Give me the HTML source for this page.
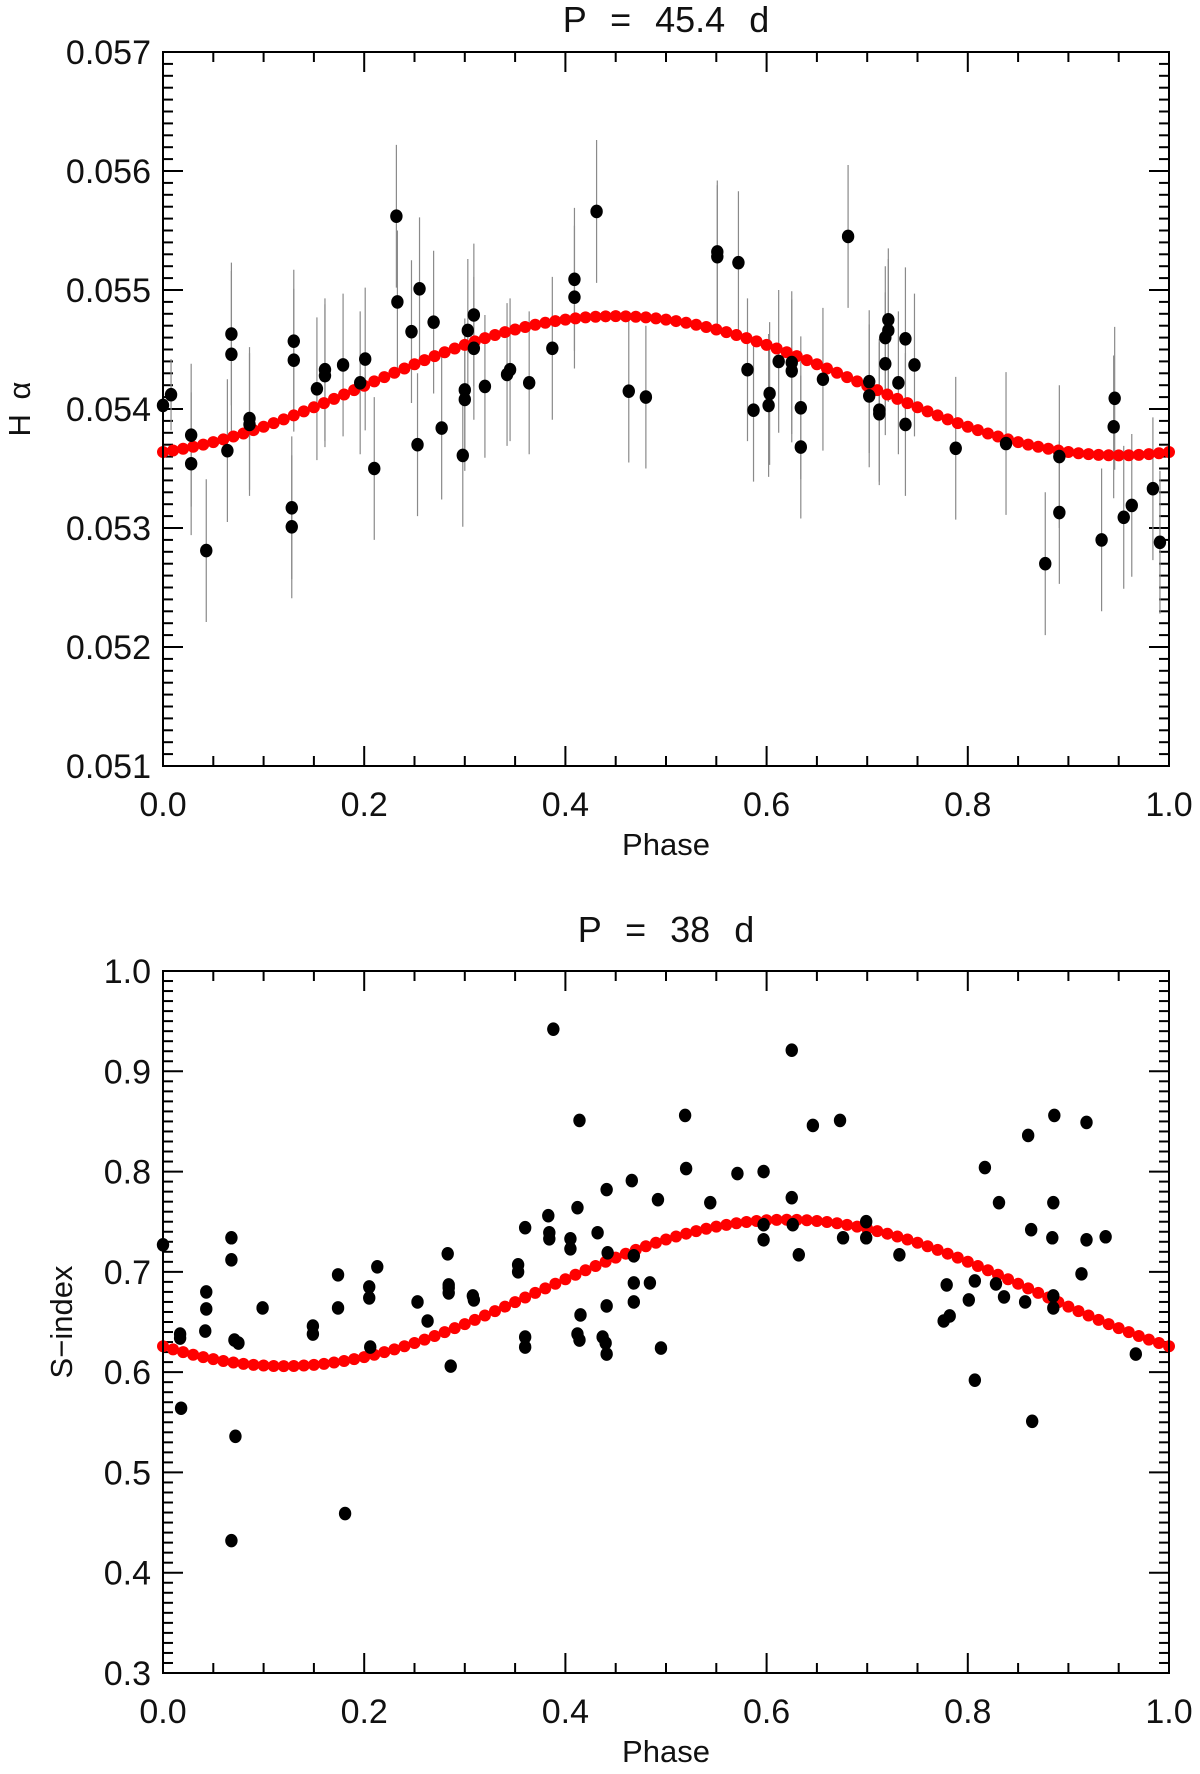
<!DOCTYPE html>
<html><head><meta charset="utf-8"><style>
html,body{margin:0;padding:0;background:#fff;}
svg{display:block;font-family:"Liberation Sans",sans-serif;}
</style></head><body>
<svg id="fig" width="1200" height="1774" viewBox="0 0 1200 1774" xmlns="http://www.w3.org/2000/svg"></svg>
<script>
// ---- Panel 1 data (H alpha) ----
const haPhase = [0.000,0.008,0.028,0.028,0.043,0.064,0.068,0.068,0.086,0.086,0.128,0.128,0.130,0.130,0.153,0.161,0.161,0.179,0.196,0.201,0.210,0.232,0.233,0.247,0.253,0.255,0.269,0.277,0.298,0.300,0.300,0.303,0.309,0.309,0.320,0.342,0.345,0.364,0.387,0.409,0.409,0.431,0.463,0.480,0.551,0.551,0.572,0.581,0.587,0.603,0.602,0.612,0.625,0.625,0.634,0.634,0.656,0.681,0.702,0.702,0.712,0.712,0.718,0.718,0.721,0.721,0.731,0.738,0.738,0.747,0.788,0.838,0.877,0.891,0.891,0.933,0.945,0.946,0.955,0.963,0.984,0.991];
const haValue = [0.05403,0.05412,0.05378,0.05354,0.05281,0.05365,0.05446,0.05463,0.05392,0.05387,0.05317,0.05301,0.05457,0.05441,0.05417,0.05428,0.05433,0.05437,0.05422,0.05442,0.05350,0.05562,0.05490,0.05465,0.05370,0.05501,0.05473,0.05384,0.05361,0.05408,0.05416,0.05466,0.05451,0.05479,0.05419,0.05429,0.05433,0.05422,0.05451,0.05494,0.05509,0.05566,0.05415,0.05410,0.05532,0.05528,0.05523,0.05433,0.05399,0.05413,0.05403,0.05440,0.05439,0.05432,0.05401,0.05368,0.05425,0.05545,0.05423,0.05411,0.05399,0.05396,0.05460,0.05438,0.05466,0.05475,0.05422,0.05459,0.05387,0.05437,0.05367,0.05371,0.05270,0.05313,0.05360,0.05290,0.05385,0.05409,0.05309,0.05319,0.05333,0.05288];
const haError = [0.0004,0.0003,0.0006,0.0006,0.0006,0.0006,0.0007,0.0006,0.0006,0.0006,0.0006,0.0006,0.0006,0.0006,0.0006,0.0006,0.0006,0.0006,0.0006,0.0006,0.0006,0.0006,0.0006,0.0006,0.0006,0.0006,0.0006,0.0006,0.0006,0.0006,0.0006,0.0006,0.0006,0.0006,0.0006,0.0006,0.0006,0.0006,0.0006,0.0006,0.0006,0.0006,0.0006,0.0006,0.0006,0.0006,0.0006,0.0006,0.0006,0.0006,0.0006,0.0006,0.0006,0.0006,0.0006,0.0006,0.0006,0.0006,0.0006,0.0006,0.0006,0.0006,0.0006,0.0006,0.0006,0.0006,0.0006,0.0006,0.0006,0.0006,0.0006,0.0006,0.0006,0.0006,0.0006,0.0006,0.0006,0.0006,0.0006,0.0006,0.0006,0.0006];
const haFit = [0.054195, 0.000585, 0.45]; // mean, amplitude, peak phase
const haYTicks = ["0.051","0.052","0.053","0.054","0.055","0.056","0.057"];
const haYTickVals = [0.051,0.052,0.053,0.054,0.055,0.056,0.057];

// ---- Panel 2 data (S-index) ----
const sPhase = [0.000,0.017,0.017,0.018,0.042,0.043,0.043,0.068,0.068,0.071,0.075,0.072,0.068,0.099,0.149,0.149,0.174,0.174,0.181,0.205,0.205,0.206,0.213,0.253,0.263,0.283,0.284,0.284,0.284,0.286,0.308,0.309,0.353,0.353,0.360,0.360,0.360,0.383,0.384,0.384,0.388,0.405,0.405,0.412,0.414,0.415,0.412,0.414,0.432,0.441,0.442,0.441,0.437,0.440,0.441,0.466,0.468,0.468,0.468,0.484,0.492,0.495,0.519,0.520,0.544,0.571,0.597,0.597,0.597,0.625,0.625,0.626,0.632,0.646,0.673,0.676,0.699,0.699,0.732,0.776,0.782,0.779,0.801,0.807,0.807,0.817,0.828,0.831,0.836,0.857,0.860,0.863,0.864,0.886,0.885,0.884,0.885,0.885,0.913,0.918,0.918,0.937,0.967];
const sValue = [0.727,0.638,0.634,0.564,0.641,0.663,0.680,0.734,0.712,0.632,0.629,0.536,0.432,0.664,0.646,0.638,0.697,0.664,0.459,0.685,0.674,0.625,0.705,0.670,0.651,0.718,0.687,0.684,0.679,0.606,0.676,0.672,0.707,0.700,0.744,0.635,0.625,0.756,0.739,0.733,0.942,0.733,0.723,0.764,0.851,0.657,0.638,0.632,0.739,0.782,0.719,0.666,0.635,0.629,0.618,0.791,0.716,0.689,0.670,0.689,0.772,0.624,0.856,0.803,0.769,0.798,0.800,0.747,0.732,0.921,0.774,0.747,0.717,0.846,0.851,0.734,0.750,0.734,0.717,0.651,0.656,0.687,0.672,0.691,0.592,0.804,0.688,0.769,0.675,0.670,0.836,0.742,0.551,0.856,0.769,0.734,0.676,0.664,0.698,0.732,0.849,0.735,0.618];
const sFit = [0.679, 0.073, 0.62]; // mean, amplitude, peak phase
const sYTicks = ["0.3","0.4","0.5","0.6","0.7","0.8","0.9","1.0"];
const sYTickVals = [0.3,0.4,0.5,0.6,0.7,0.8,0.9,1.0];
const xTicks = ["0.0","0.2","0.4","0.6","0.8","1.0"];
const xTickVals = [0,0.2,0.4,0.6,0.8,1.0];

const NS = "http://www.w3.org/2000/svg";
const svg = document.getElementById('fig');
function mk(tag, attrs, parent){
  const e = document.createElementNS(NS, tag);
  for (const k in attrs) e.setAttribute(k, attrs[k]);
  (parent||svg).appendChild(e);
  return e;
}

function panel(cfg){
  const {L,R,T,B,ymin,ymax,yMinorStep,title,titleY,ylabel,ylabelX,phase,vals,errs,fit,yTicks,yTickVals,name} = cfg;
  const g = mk('g',{});
  
  
  const xs = p => L + p*(R-L);
  const ys = v => B - (v-ymin)/(ymax-ymin)*(B-T);
  const tg = mk('g',{stroke:'#000','stroke-width':2},g);
  
  
  for (let i=0;i<=20;i++){
    const x = xs(i/20), len = (i%4===0)?20:10;
    mk('line',{x1:x,x2:x,y1:B,y2:B-len},tg);
    mk('line',{x1:x,x2:x,y1:T,y2:T+len},tg);
  }
  const nMinor = Math.round((ymax-ymin)/yMinorStep);
  for (let i=0;i<=nMinor;i++){
    const y = ys(ymin+i*yMinorStep), len = (i%10===0)?20:10;
    mk('line',{x1:L,x2:L+len,y1:y,y2:y},tg);
    mk('line',{x1:R,x2:R-len,y1:y,y2:y},tg);
  }
  xTickVals.forEach((v,i)=>{
    const t = mk('text',{x:xs(v),y:B+50,'font-size':34,'text-anchor':'middle',fill:'#111'},g);
    t.textContent = xTicks[i];
    
    
  });
  yTickVals.forEach((v,i)=>{
    const t = mk('text',{x:L-12,y:ys(v)+12,'font-size':34,'text-anchor':'end',fill:'#111'},g);
    t.textContent = yTicks[i];
    
    
  });
  const xt = mk('text',{x:(L+R)/2,y:B+89,'font-size':31,'text-anchor':'middle',fill:'#111'},g);
  xt.textContent = 'Phase';
  
  
  const yt = mk('text',{x:ylabelX,y:(T+B)/2,'font-size':31,'text-anchor':'middle',fill:'#111','word-spacing':'6px',transform:`rotate(-90 ${ylabelX} ${(T+B)/2})`},g);
  yt.textContent = ylabel;
  
  
  const tt = mk('text',{x:(L+R)/2,y:titleY,'font-size':36,'text-anchor':'middle',fill:'#111','word-spacing':'14px'},g);
  tt.textContent = title;
  
  
  if (errs){
    phase.forEach((p,i)=>{
      const l = mk('line',{x1:xs(p),x2:xs(p),y1:ys(vals[i]-errs[i]),y2:ys(vals[i]+errs[i]),stroke:'#8a8a8a','stroke-width':1.2},g);
      
      
    });
  }
  for (let i=0;i<=100;i++){
    const p = i/100;
    const v = fit[0] + fit[1]*Math.cos(2*Math.PI*(p-fit[2]));
    const c = mk('circle',{cx:xs(p),cy:ys(v),r:6,fill:'#ff0000'},g);
    
    
  }
  phase.forEach((p,i)=>{
    const c = mk('ellipse',{cx:xs(p),cy:ys(vals[i]),rx:6.2,ry:6.8,fill:'#000'},g);
    
    
  });
  const f = mk('rect',{x:L,y:T,width:R-L,height:B-T,fill:'none',stroke:'#000','stroke-width':2},g);
  
  
}

panel({L:163,R:1169,T:52,B:766,ymin:0.051,ymax:0.057,yMinorStep:0.0001,title:'P = 45.4 d',titleY:32,ylabel:'H α',ylabelX:30,phase:haPhase,vals:haValue,errs:haError,fit:haFit,yTicks:haYTicks,yTickVals:haYTickVals,name:'halpha'});
panel({L:163,R:1169,T:971,B:1673,ymin:0.3,ymax:1.0,yMinorStep:0.01,title:'P = 38 d',titleY:942,ylabel:'S−index',ylabelX:72,phase:sPhase,vals:sValue,errs:null,fit:sFit,yTicks:sYTicks,yTickVals:sYTickVals,name:'sindex'});
</script>
</body></html>
